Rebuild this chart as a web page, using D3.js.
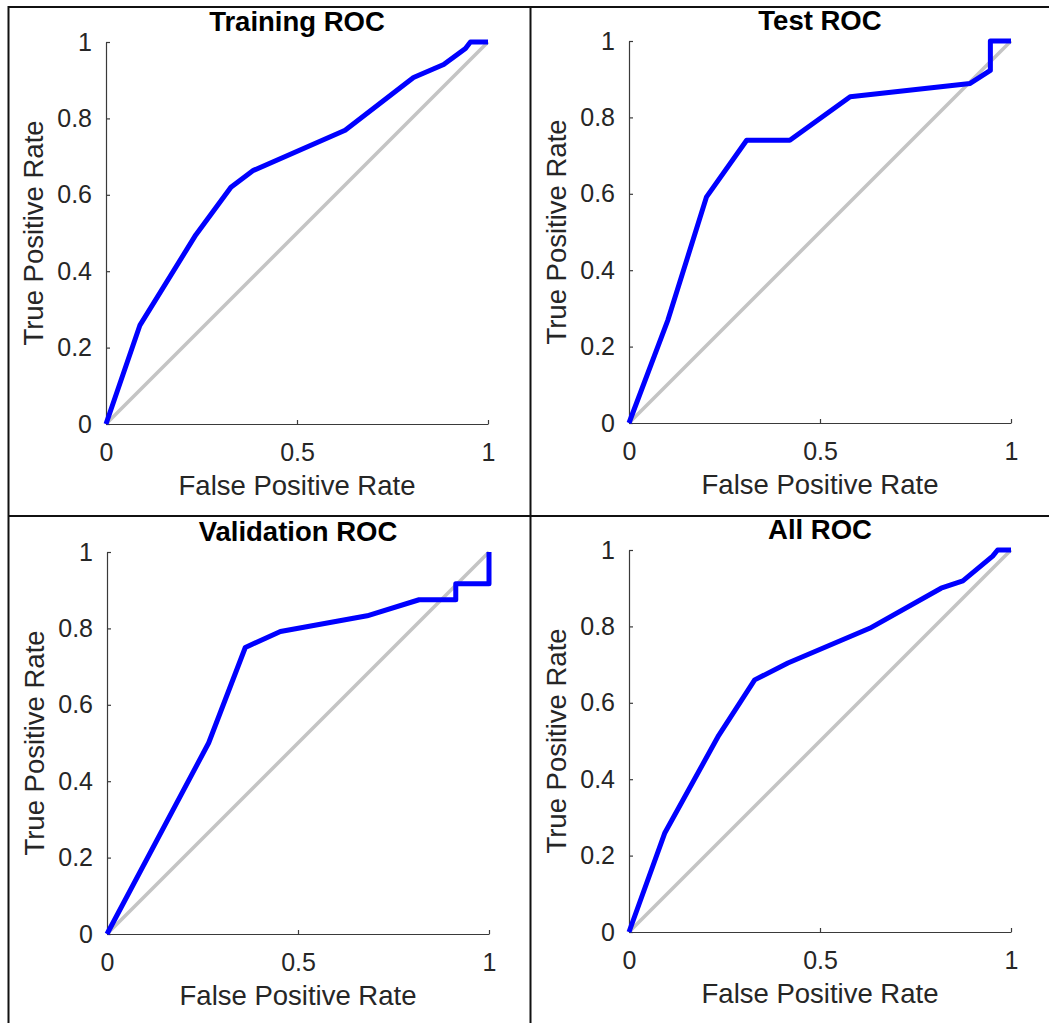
<!DOCTYPE html>
<html>
<head>
<meta charset="utf-8">
<script src="https://cdn.jsdelivr.net/npm/d3@7"></script>
<style>
  html, body { margin: 0; padding: 0; background: #fff; }
  svg { display: block; font-family: "Liberation Sans", Arial, sans-serif; }
</style>
</head>
<body>
<div id="grid"></div>
<script>
// ROC curves (false positive rate / true positive rate) per data split
const trainFpr = [0, 0.089, 0.235, 0.327, 0.386, 0.626, 0.805, 0.884, 0.941, 0.954, 1];
const trainTpr = [0, 0.259, 0.495, 0.620, 0.664, 0.769, 0.907, 0.941, 0.983, 1, 1];

const testFpr = [0, 0.102, 0.203, 0.308, 0.421, 0.579, 0.893, 0.946, 0.946, 1];
const testTpr = [0, 0.270, 0.592, 0.740, 0.740, 0.854, 0.889, 0.923, 1, 1];

const valFpr = [0, 0.266, 0.362, 0.454, 0.681, 0.817, 0.913, 0.913, 1, 1];
const valTpr = [0, 0.500, 0.750, 0.792, 0.833, 0.875, 0.875, 0.917, 0.917, 1];

const allFpr = [0, 0.094, 0.235, 0.329, 0.416, 0.630, 0.817, 0.874, 0.952, 0.965, 1];
const allTpr = [0, 0.260, 0.515, 0.660, 0.704, 0.795, 0.900, 0.919, 0.984, 1, 1];

const titles = ["Training ROC", "Test ROC", "Validation ROC", "All ROC"];
const xTicks = [0, 0.5, 1];
const yTicks = [0, 0.2, 0.4, 0.6, 0.8, 1];

const series = [
  { fpr: trainFpr, tpr: trainTpr },
  { fpr: testFpr, tpr: testTpr },
  { fpr: valFpr, tpr: valTpr },
  { fpr: allFpr, tpr: allTpr }
];

const W = 1049, H = 1023;
const size = 382;
// top-left corner of each axes box
const origins = [[106, 42], [629, 41], [107, 552], [629, 550]];

const svg = d3.select("#grid").append("svg")
  .attr("width", W)
  .attr("height", H);

// table borders around the four panels
const border = svg.append("g").attr("stroke", "#111");
border.append("line").attr("x1", 8).attr("x2", W).attr("y1", 7).attr("y2", 7).attr("stroke-width", 2);
border.append("line").attr("x1", 8).attr("x2", W).attr("y1", 516).attr("y2", 516).attr("stroke-width", 2);
border.append("line").attr("x1", 8.5).attr("x2", 8.5).attr("y1", 6).attr("y2", H).attr("stroke-width", 2);
border.append("line").attr("x1", 530.5).attr("x2", 530.5).attr("y1", 6).attr("y2", H).attr("stroke-width", 2);

const x = d3.scaleLinear().domain([0, 1]).range([0, size]);
const y = d3.scaleLinear().domain([0, 1]).range([size, 0]);

const line = d3.line()
  .x(d => x(d[0]))
  .y(d => y(d[1]));

series.forEach((s, i) => {
  const g = svg.append("g")
    .attr("transform", "translate(" + origins[i][0] + "," + origins[i][1] + ")");

  // chance diagonal
  g.append("path")
    .attr("d", line([[0, 0], [1, 1]]))
    .attr("stroke", "#c4c4c4")
    .attr("stroke-width", 3.5)
    .attr("fill", "none");

  // axes, ticks pointing inward
  const xAxis = g.append("g")
    .attr("transform", "translate(0," + size + ")")
    .call(d3.axisBottom(x).tickValues(xTicks).tickSizeInner(-4).tickSizeOuter(0)
      .tickPadding(19).tickFormat(d3.format("")));
  const yAxis = g.append("g")
    .call(d3.axisLeft(y).tickValues(yTicks).tickSizeInner(-4).tickSizeOuter(0)
      .tickPadding(14).tickFormat(d3.format("")));

  [xAxis, yAxis].forEach(a => {
    a.select(".domain").attr("stroke", "#3a3a3a").attr("stroke-width", 1.2);
    a.selectAll(".tick line").attr("stroke", "#3a3a3a").attr("stroke-width", 1.2);
    a.selectAll(".tick text")
      .attr("fill", "#262626")
      .style("font-size", "25px")
      .style("font-family", "'Liberation Sans', Arial, sans-serif");
  });
  xAxis.selectAll(".tick text").attr("dy", "0.71em");

  // ROC curve
  g.append("path")
    .datum(d3.zip(s.fpr, s.tpr))
    .attr("d", line)
    .attr("stroke", "#0000ff")
    .attr("stroke-width", 5)
    .attr("stroke-linejoin", "round")
    .attr("fill", "none");

  g.append("text")
    .attr("x", size / 2)
    .attr("y", -11)
    .attr("text-anchor", "middle")
    .style("font-size", "27.5px")
    .style("font-weight", "bold")
    .attr("fill", "#000")
    .text(titles[i]);

  g.append("text")
    .attr("x", size / 2)
    .attr("y", size + 71)
    .attr("text-anchor", "middle")
    .style("font-size", "27.5px")
    .attr("fill", "#262626")
    .text("False Positive Rate");

  g.append("text")
    .attr("transform", "translate(-63," + (size / 2) + ") rotate(-90)")
    .attr("text-anchor", "middle")
    .style("font-size", "27.5px")
    .attr("fill", "#262626")
    .text("True Positive Rate");
});
</script>
</body>
</html>
